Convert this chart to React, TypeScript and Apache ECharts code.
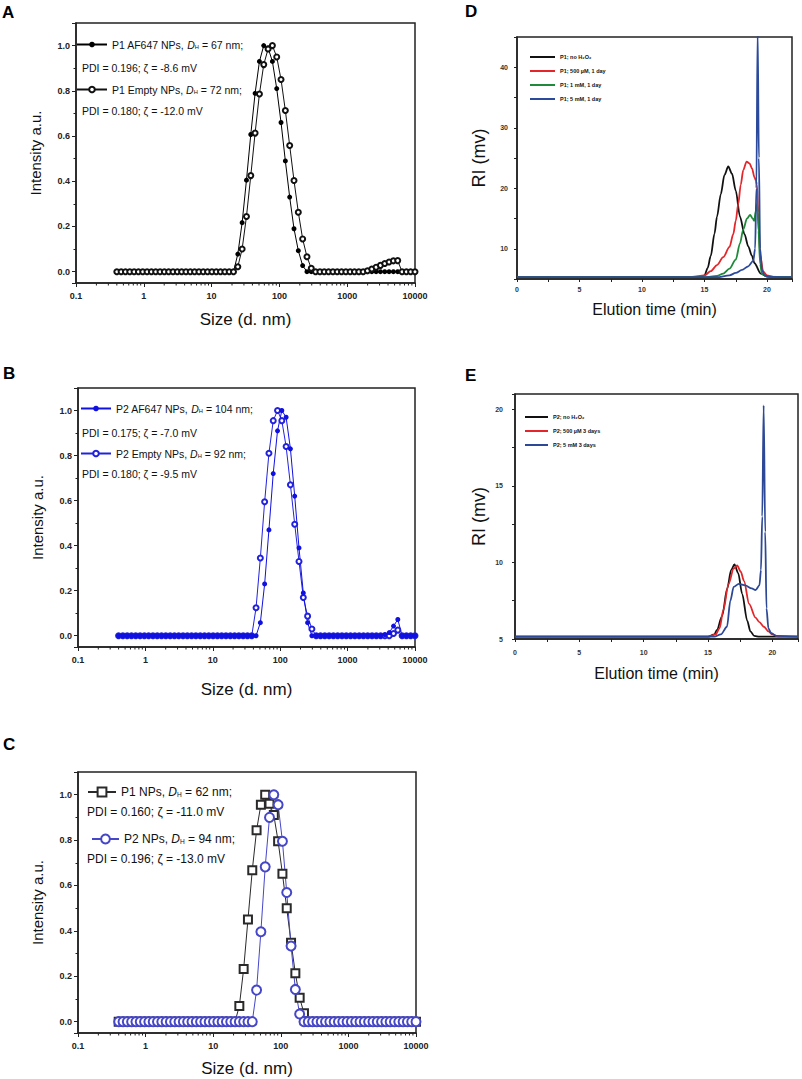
import React, { useEffect, useRef } from 'react';
import * as echarts from 'echarts';

const FONT = '"Liberation Sans", Arial, Helvetica, sans-serif';

// DLS size bins (d. nm)
const sizeBins = [
  0.4, 0.4632, 0.5365, 0.6213, 0.7195, 0.8332, 0.9649, 1.117, 1.294, 1.499,
  1.736, 2.01, 2.328, 2.696, 3.122, 3.615, 4.187, 4.849, 5.615, 6.503,
  7.531, 8.721, 10.1, 11.7, 13.54, 15.69, 18.17, 21.04, 24.36, 28.21,
  32.67, 37.84, 43.82, 50.75, 58.77, 68.06, 78.82, 91.28, 105.7, 122.4,
  141.8, 164.2, 190.1, 220.2, 255.0, 295.3, 342.0, 396.1, 458.7, 531.2,
  615.1, 712.4, 825.0, 955.4, 1106, 1281, 1484, 1718, 1990, 2305,
  2669, 3091, 3580, 4145, 4801, 5560, 6439, 7456, 8635, 10000,
];

// Panel A
const p1Af647 = [
  0, 0, 0, 0, 0, 0, 0, 0, 0, 0,
  0, 0, 0, 0, 0, 0, 0, 0, 0, 0,
  0, 0, 0, 0, 0, 0, 0, 0, 0.078, 0.217,
  0.405, 0.607, 0.789, 0.93, 1.0, 0.99, 0.93, 0.81, 0.66, 0.49,
  0.33, 0.19, 0.093, 0.027, 0, 0, 0, 0, 0, 0,
  0, 0, 0, 0, 0, 0, 0, 0, 0, 0,
  0, 0, 0, 0, 0, 0, 0, 0, 0, 0,
];
const p1Empty = [
  0, 0, 0, 0, 0, 0, 0, 0, 0, 0,
  0, 0, 0, 0, 0, 0, 0, 0, 0, 0,
  0, 0, 0, 0, 0, 0, 0, 0, 0.022, 0.1,
  0.244, 0.425, 0.613, 0.786, 0.916, 0.985, 1.0, 0.95, 0.85, 0.713,
  0.558, 0.403, 0.263, 0.145, 0.066, 0.015, 0, 0, 0, 0,
  0, 0, 0, 0, 0, 0, 0, 0, 0.004, 0.012,
  0.02, 0.028, 0.036, 0.043, 0.048, 0.049, 0, 0, 0, 0,
];

// Panel B
const p2Af647 = [
  0, 0, 0, 0, 0, 0, 0, 0, 0, 0,
  0, 0, 0, 0, 0, 0, 0, 0, 0, 0,
  0, 0, 0, 0, 0, 0, 0, 0, 0, 0,
  0, 0, 0, 0.058, 0.23, 0.47, 0.72, 0.91, 1.0, 0.97,
  0.83, 0.62, 0.39, 0.19, 0.058, 0, 0, 0, 0, 0,
  0, 0, 0, 0, 0, 0, 0, 0, 0, 0,
  0, 0, 0.005, 0.014, 0.043, 0.072, 0, 0, 0, 0,
];
const p2Empty = [
  0, 0, 0, 0, 0, 0, 0, 0, 0, 0,
  0, 0, 0, 0, 0, 0, 0, 0, 0, 0,
  0, 0, 0, 0, 0, 0, 0, 0, 0, 0,
  0, 0, 0.124, 0.345, 0.595, 0.81, 0.955, 1.0, 0.955, 0.84,
  0.67, 0.495, 0.33, 0.17, 0.087, 0.03, 0, 0, 0, 0,
  0, 0, 0, 0, 0, 0, 0, 0, 0, 0,
  0, 0, 0, 0, 0.01, 0.025, 0, 0, 0, 0,
];

// Panel C
const p1Nps = [
  0, 0, 0, 0, 0, 0, 0, 0, 0, 0,
  0, 0, 0, 0, 0, 0, 0, 0, 0, 0,
  0, 0, 0, 0, 0, 0, 0, 0, 0.069, 0.232,
  0.45, 0.667, 0.843, 0.956, 1.0, 0.96, 0.91, 0.795, 0.652, 0.5,
  0.348, 0.213, 0.105, 0.037, 0, 0, 0, 0, 0, 0,
  0, 0, 0, 0, 0, 0, 0, 0, 0, 0,
  0, 0, 0, 0, 0, 0, 0, 0, 0, 0,
];
const p2Nps = [
  0, 0, 0, 0, 0, 0, 0, 0, 0, 0,
  0, 0, 0, 0, 0, 0, 0, 0, 0, 0,
  0, 0, 0, 0, 0, 0, 0, 0, 0, 0,
  0, 0, 0.139, 0.396, 0.682, 0.9, 1.0, 0.956, 0.795, 0.569,
  0.333, 0.142, 0.034, 0, 0, 0, 0, 0, 0, 0,
  0, 0, 0, 0, 0, 0, 0, 0, 0, 0,
  0, 0, 0, 0, 0, 0, 0, 0, 0, 0,
];

// log-axis minor tick positions
const logMinorTicks = [
  0.2, 0.3, 0.4, 0.5, 0.6, 0.7, 0.8, 0.9,
  2, 3, 4, 5, 6, 7, 8, 9,
  20, 30, 40, 50, 60, 70, 80, 90,
  200, 300, 400, 500, 600, 700, 800, 900,
  2000, 3000, 4000, 5000, 6000, 7000, 8000, 9000,
];

// Panel D: elution time (min), RI (mv)
const dNoH2O2 = [
  [0, 5.3], [5, 5.3], [10, 5.3], [14, 5.3], [14.8, 5.35], [15.0, 5.6], [15.25, 6.8], [15.5, 8.8],
  [15.8, 12.5], [16.0, 15.3], [16.3, 19.0], [16.6, 22.2], [16.9, 23.6], [17.2, 22.4], [17.5, 19.6],
  [17.84, 15.3], [18.2, 12.4], [18.5, 10.4], [18.8, 8.8], [19.0, 7.6], [19.5, 5.9], [20, 5.4],
  [21, 5.3], [22, 5.3],
];
const d500uM = [
  [0, 5.3], [13, 5.3], [14, 5.35], [15, 5.6], [15.5, 6.3], [16, 7.3], [16.5, 8.6], [17, 10.3],
  [17.3, 12.4], [17.5, 14.6], [17.7, 17.4], [17.9, 20.6], [18.1, 23.0], [18.37, 24.4], [18.6, 24.1],
  [18.8, 23.3], [19.0, 21.8], [19.1, 21.3], [19.2, 20.6], [19.3, 16], [19.45, 9], [19.7, 6.2],
  [20, 5.6], [20.5, 5.35], [22, 5.3],
];
const d1mM = [
  [0, 5.3], [15, 5.3], [16, 5.5], [16.5, 5.9], [17, 6.7], [17.5, 8.2], [17.84, 10.9], [18.1, 13.2],
  [18.4, 15.0], [18.65, 15.6], [18.85, 15.0], [18.97, 14.6], [19.1, 16.2], [19.22, 17.5], [19.32, 13],
  [19.45, 7.5], [19.6, 5.8], [20, 5.4], [22, 5.3],
];
const d5mM = [
  [0, 5.3], [16, 5.3], [17, 5.6], [17.5, 6.0], [18, 6.5], [18.5, 7.1], [18.9, 8.0], [19.05, 10],
  [19.15, 20], [19.25, 46], [19.35, 25], [19.45, 10], [19.6, 6.5], [19.8, 5.6], [20.2, 5.35], [22, 5.3],
];

// Panel E
const eNoH2O2 = [
  [0, 5.15], [15, 5.15], [15.5, 5.3], [15.7, 5.6], [16.1, 6.5], [16.5, 8.3], [16.8, 9.5], [17.06, 9.87],
  [17.35, 9.3], [17.66, 7.95], [18.05, 6.2], [18.3, 5.5], [18.6, 5.2], [19, 5.15], [22, 5.15],
];
const e500uM = [
  [0, 5.15], [15, 5.15], [15.6, 5.3], [15.9, 5.7], [16.2, 6.9], [16.6, 8.6], [17, 9.6], [17.27, 9.8],
  [17.55, 9.4], [17.8, 8.8], [18.2, 7.3], [18.7, 6.4], [19.0, 6.1], [19.35, 5.8], [19.7, 5.5],
  [20, 5.3], [20.5, 5.15], [22, 5.15],
];
const e5mM = [
  [0, 5.15], [15.5, 5.15], [16.0, 5.3], [16.48, 5.8], [16.74, 7.5], [17.0, 8.4], [17.4, 8.6], [17.9, 8.5],
  [18.4, 8.3], [18.7, 8.2], [19.0, 8.5], [19.12, 9.5], [19.22, 13], [19.33, 20.26], [19.45, 12],
  [19.55, 7], [19.7, 5.7], [19.9, 5.4], [20.3, 5.2], [22, 5.15],
];

const zip = (xs: number[], ys: number[]) => xs.map((x, i) => [x, ys[i]]);

const tickLabelABC = {
  fontSize: 9,
  fontWeight: 'bold' as const,
  color: '#222',
  fontFamily: FONT,
};

function logXAxis(gridIndex: number, nameGap: number) {
  return {
    type: 'log',
    logBase: 10,
    gridIndex,
    min: 0.1,
    max: 10000,
    name: 'Size (d. nm)',
    nameLocation: 'middle',
    nameGap,
    nameTextStyle: { fontSize: 17, color: '#111', fontFamily: FONT },
    axisLine: { onZero: false, lineStyle: { color: '#222', width: 1.5 } },
    axisTick: { length: 4, lineStyle: { color: '#222' } },
    axisLabel: { ...tickLabelABC, margin: 8, formatter: (v: number) => String(v) },
    splitLine: { show: false },
  };
}

function intensityYAxis(gridIndex: number) {
  return {
    type: 'value',
    gridIndex,
    min: -0.05,
    max: 1.1,
    splitNumber: 6,
    name: 'Intensity a.u.',
    nameLocation: 'middle',
    nameGap: 33,
    nameTextStyle: { fontSize: 15, color: '#111', fontFamily: FONT },
    axisLine: { onZero: false, lineStyle: { color: '#222', width: 1.5 } },
    axisTick: { length: 4, lineStyle: { color: '#222' } },
    minorTick: { show: true, splitNumber: 2, length: 2.5, lineStyle: { color: '#222' } },
    axisLabel: {
      ...tickLabelABC,
      margin: 6,
      formatter: (v: number) =>
        v >= -1e-6 && v <= 1.0001 && Math.abs(v * 5 - Math.round(v * 5)) < 1e-6 ? v.toFixed(1) : '',
    },
    splitLine: { show: false },
    minorSplitLine: { show: false },
  };
}

function minorTickSeries(axisIndex: number) {
  return {
    type: 'custom',
    xAxisIndex: axisIndex,
    yAxisIndex: axisIndex,
    silent: true,
    clip: false,
    z: 10,
    data: logMinorTicks.map((v) => [v, -0.05]),
    renderItem: (_p: any, api: any) => {
      const pt = api.coord([api.value(0), -0.05]);
      return {
        type: 'line',
        shape: { x1: pt[0], y1: pt[1], x2: pt[0], y2: pt[1] + 2.5 },
        style: { stroke: '#222', lineWidth: 1 },
      };
    },
  };
}

const richDH = (fs: number) => ({
  d: { fontStyle: 'italic', fontSize: fs, fontFamily: FONT, color: '#111' },
  h: { fontSize: fs * 0.55, fontFamily: FONT, color: '#111', padding: [fs * 0.45, 0, 0, 0] },
});

const legendDH: Record<string, string> = {
  'P1 AF647 NPs': '{t|P1 AF647 NPs, }{d|D}{h|H}{t| = 67 nm;}',
  'P1 Empty NPs': '{t|P1 Empty NPs, }{d|D}{h|H}{t| = 72 nm;}',
  'P2 AF647 NPs': '{t|P2 AF647 NPs, }{d|D}{h|H}{t| = 104 nm;}',
  'P2 Empty NPs': '{t|P2 Empty NPs, }{d|D}{h|H}{t| = 92 nm;}',
  'P1 NPs': '{t|P1 NPs, }{d|D}{h|H}{t| = 62 nm;}',
  'P2 NPs': '{t|P2 NPs, }{d|D}{h|H}{t| = 94 nm;}',
};

function dlsLegend(name: string, left: number, top: number, itemWidth: number, itemHeight: number, fs: number) {
  return {
    data: [name],
    left,
    top,
    padding: 0,
    itemWidth,
    itemHeight,
    selectedMode: false,
    formatter: () => legendDH[name],
    textStyle: {
      fontSize: fs,
      fontFamily: FONT,
      color: '#111',
      rich: { t: { fontSize: fs, fontFamily: FONT, color: '#111' }, ...richDH(fs) },
    },
  };
}

function dlsLine(name: string, axis: number, ys: number[], symbol: string, color: string, size: number, bw: number) {
  return {
    type: 'line',
    name,
    xAxisIndex: axis,
    yAxisIndex: axis,
    data: zip(sizeBins, ys),
    symbol,
    symbolSize: size,
    showSymbol: true,
    showAllSymbol: true,
    color,
    lineStyle: { color, width: 1 },
    itemStyle: { color, borderColor: color, borderWidth: bw },
    emphasis: { disabled: true },
  };
}

function gpcLine(name: string, axis: number, data: number[][], color: string) {
  return {
    type: 'line',
    name,
    xAxisIndex: axis,
    yAxisIndex: axis,
    data,
    smooth: 0.3,
    smoothMonotone: 'x',
    symbol: 'none',
    showSymbol: false,
    color,
    lineStyle: { color, width: 1.8 },
    emphasis: { disabled: true },
  };
}

function gpcXAxis(gridIndex: number, nameGap: number, margin: number) {
  return {
    type: 'value',
    gridIndex,
    min: 0,
    max: 22,
    interval: 2.5,
    name: 'Elution time (min)',
    nameLocation: 'middle',
    nameGap,
    nameTextStyle: { fontSize: 16, color: '#111', fontFamily: FONT },
    axisLine: { onZero: false, lineStyle: { color: '#222', width: 1.5 } },
    axisTick: { length: 3, lineStyle: { color: '#222' } },
    axisLabel: {
      fontSize: 7,
      fontWeight: 'bold' as const,
      color: '#333',
      fontFamily: FONT,
      margin,
      formatter: (v: number) => (Math.abs(v % 5) < 1e-6 && v <= 20 ? String(v) : ''),
    },
    splitLine: { show: false },
  };
}

function gpcYAxis(gridIndex: number, min: number, max: number, interval: number, labelStep: number, nameGap: number, margin: number) {
  return {
    type: 'value',
    gridIndex,
    min,
    max,
    interval,
    name: 'RI (mv)',
    nameLocation: 'middle',
    nameGap,
    nameTextStyle: { fontSize: 18, color: '#111', fontFamily: FONT },
    axisLine: { onZero: false, lineStyle: { color: '#222', width: 1.5 } },
    axisTick: { length: 3, lineStyle: { color: '#222' } },
    axisLabel: {
      fontSize: 7,
      fontWeight: 'bold' as const,
      color: '#333',
      fontFamily: FONT,
      margin,
      formatter: (v: number) =>
        Math.abs(v % labelStep) < 1e-6 && v > min - 1e-6 && v < max - 1e-6 && (labelStep === 5 || v > min) ? String(v) : '',
    },
    splitLine: { show: false },
  };
}

const gridStyle = { show: true, borderColor: '#222', borderWidth: 1.5, backgroundColor: 'transparent' };

export default function App() {
  const ref = useRef<HTMLDivElement>(null);

  useEffect(() => {
    if (!ref.current) return;
    const chart = echarts.init(ref.current, undefined, { renderer: 'svg' });

    const panelLetter = (t: string, x: number, y: number) => ({
      type: 'text',
      x,
      y,
      style: { text: t, font: `bold 17px ${FONT}`, fill: '#000', verticalAlign: 'middle' },
    });
    const note = (t: string, x: number, y: number, fs: number) => ({
      type: 'text',
      x,
      y,
      style: { text: t, font: `${fs}px ${FONT}`, fill: '#111', verticalAlign: 'middle' },
    });

    const option: any = {
      animation: false,
      backgroundColor: '#fff',
      textStyle: { fontFamily: FONT },
      grid: [
        { left: 76, top: 23, width: 339, height: 260, ...gridStyle },
        { left: 78, top: 388, width: 337, height: 259, ...gridStyle },
        { left: 78, top: 772, width: 338, height: 261, ...gridStyle },
        { left: 517, top: 37, width: 275, height: 242, ...gridStyle },
        { left: 515, top: 394, width: 283, height: 245, ...gridStyle },
      ],
      xAxis: [
        logXAxis(0, 28),
        logXAxis(1, 34),
        logXAxis(2, 27),
        gpcXAxis(3, 22, 7),
        gpcXAxis(4, 26, 10),
      ],
      yAxis: [
        intensityYAxis(0),
        intensityYAxis(1),
        intensityYAxis(2),
        gpcYAxis(3, 5, 45, 5, 10, 29, 9),
        gpcYAxis(4, 5, 21, 2.5, 5, 27, 12),
      ],
      legend: [
        dlsLegend('P1 AF647 NPs', 76, 39, 30, 7, 10.5),
        dlsLegend('P1 Empty NPs', 76, 84, 30, 7, 10.5),
        dlsLegend('P2 AF647 NPs', 80, 403, 30, 7, 10.5),
        dlsLegend('P2 Empty NPs', 80, 448, 30, 7, 10.5),
        dlsLegend('P1 NPs', 87, 786, 28, 11, 12),
        dlsLegend('P2 NPs', 91, 833, 27, 11, 12),
        {
          data: ['P1; no H₂O₂', 'P1; 500 µM, 1 day', 'P1; 1 mM, 1 day', 'P1; 5 mM, 1 day'],
          orient: 'vertical',
          left: 530,
          top: 53,
          padding: 0,
          itemGap: 6,
          itemWidth: 25,
          itemHeight: 2,
          icon: 'rect',
          selectedMode: false,
          textStyle: { fontSize: 5.5, fontWeight: 'bold', fontFamily: FONT, color: '#111', lineHeight: 8 },
        },
        {
          data: ['P2; no H₂O₂', 'P2; 500 µM 3 days', 'P2; 5 mM 3 days'],
          orient: 'vertical',
          left: 525,
          top: 413,
          padding: 0,
          itemGap: 6,
          itemWidth: 23,
          itemHeight: 2,
          icon: 'rect',
          selectedMode: false,
          textStyle: { fontSize: 5.5, fontWeight: 'bold', fontFamily: FONT, color: '#111', lineHeight: 8 },
        },
      ],
      series: [
        dlsLine('P1 AF647 NPs', 0, p1Af647, 'circle', '#000', 5, 0),
        dlsLine('P1 Empty NPs', 0, p1Empty, 'emptyCircle', '#111', 5, 1),
        dlsLine('P2 Empty NPs', 1, p2Empty, 'emptyCircle', '#2222dd', 5, 1),
        dlsLine('P2 AF647 NPs', 1, p2Af647, 'circle', '#1010e0', 5, 0),
        dlsLine('P1 NPs', 2, p1Nps, 'emptyRect', '#2a2a2a', 8, 1.3),
        dlsLine('P2 NPs', 2, p2Nps, 'emptyCircle', '#4646c8', 9, 1.6),
        minorTickSeries(0),
        minorTickSeries(1),
        minorTickSeries(2),
        gpcLine('P1; no H₂O₂', 3, dNoH2O2, '#111111'),
        gpcLine('P1; 500 µM, 1 day', 3, d500uM, '#e3262a'),
        gpcLine('P1; 1 mM, 1 day', 3, d1mM, '#1f8a3a'),
        gpcLine('P1; 5 mM, 1 day', 3, d5mM, '#2b4a9c'),
        gpcLine('P2; no H₂O₂', 4, eNoH2O2, '#111111'),
        gpcLine('P2; 500 µM 3 days', 4, e500uM, '#e3262a'),
        gpcLine('P2; 5 mM 3 days', 4, e5mM, '#2c4896'),
      ],
      graphic: [
        panelLetter('A', 2, 12),
        panelLetter('B', 3, 373),
        panelLetter('C', 3, 744),
        panelLetter('D', 465, 11),
        panelLetter('E', 465, 375),
        note('PDI = 0.196; ζ = -8.6 mV', 82, 68, 10.5),
        note('PDI = 0.180; ζ = -12.0 mV', 82, 111, 10.5),
        note('PDI = 0.175; ζ = -7.0 mV', 82, 433, 10.5),
        note('PDI = 0.180; ζ = -9.5 mV', 82, 474, 10.5),
        note('PDI = 0.160; ζ = -11.0 mV', 87, 812, 12),
        note('PDI = 0.196; ζ = -13.0 mV', 87, 859, 12),
      ],
    };

    chart.setOption(option);
    return () => chart.dispose();
  }, []);

  return (
    <div
      ref={ref}
      style={{ position: 'absolute', left: 0, top: 0, width: 802, height: 1079, background: '#fff' }}
    />
  );
}
